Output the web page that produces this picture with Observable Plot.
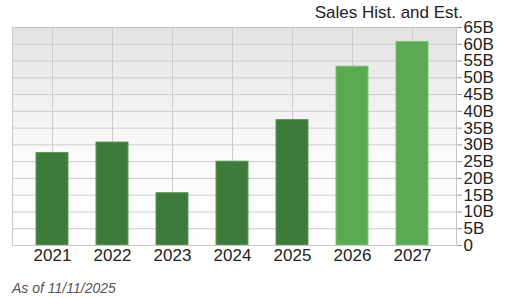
<!DOCTYPE html>
<html>
<head>
<meta charset="utf-8">
<script src="https://cdn.jsdelivr.net/npm/d3@7"></script>
<script src="https://cdn.jsdelivr.net/npm/@observablehq/plot@0.6"></script>
<style>
  html, body { margin: 0; padding: 0; background: #fff; }
  body { width: 509px; height: 298px; overflow: hidden; font-family: "Liberation Sans", Arial, sans-serif; }
  figure { margin: 0; }
  figure h2 {
    margin: 0 0 -10px 0; padding: 3px 46px 0 0; height: 20px; line-height: 20px;
    font-size: 17px; font-weight: normal; color: #222; text-align: right;
    font-family: "Liberation Sans", Arial, sans-serif;
    position: relative; z-index: 1;
  }
  figure figcaption {
    margin: 0; padding: 0 0 0 12px; line-height: 20px;
    font-size: 14px; font-style: italic; color: #555;
    font-family: "Liberation Sans", Arial, sans-serif;
  }
  svg { display: block; overflow: visible; }
</style>
</head>
<body>
<div id="chart"></div>
<script>
const years = ["2021", "2022", "2023", "2024", "2025", "2026", "2027"];
const sales = [27.6, 30.7, 15.6, 25.0, 37.4, 53.3, 60.7];
const kinds = ["Hist", "Hist", "Hist", "Hist", "Hist", "Est", "Est"];
const yTicks = [0, 5, 10, 15, 20, 25, 30, 35, 40, 45, 50, 55, 60, 65];
const titleText = "Sales Hist. and Est.";
const captionText = "As of 11/11/2025";

const data = years.map((y, i) => ({year: y, sales: sales[i], kind: kinds[i]}));

const gradientDefs = () => {
  const defs = d3.create("svg:defs");
  const g = defs.append("linearGradient").attr("id", "bgGrad")
    .attr("x1", 0).attr("y1", 0).attr("x2", 0).attr("y2", 1);
  g.append("stop").attr("offset", "0%").attr("stop-color", "#e3e3e3");
  g.append("stop").attr("offset", "60%").attr("stop-color", "#fbfbfb");
  g.append("stop").attr("offset", "100%").attr("stop-color", "#ffffff");
  return defs.node();
};

const chart = Plot.plot({
  width: 509,
  height: 265,
  marginTop: 14,
  marginBottom: 33,
  marginLeft: 12,
  marginRight: 53,
  title: titleText,
  caption: captionText,
  style: {fontFamily: "Liberation Sans, Arial, sans-serif", fontSize: "17px", color: "#222", background: "transparent", overflow: "visible"},
  x: {domain: years, range: [19, 444.6], paddingInner: 0.46, paddingOuter: 0.23, label: null},
  y: {domain: [0, 65], label: null},
  color: {domain: ["Hist", "Est"], range: ["#3e7a3b", "#5aa953"]},
  marks: [
    gradientDefs,
    Plot.frame({fill: "url(#bgGrad)", stroke: null}),
    Plot.gridY({ticks: yTicks, stroke: "#cccccc", strokeOpacity: 1}),
    Plot.gridX({stroke: "#cccccc", strokeOpacity: 1}),
    Plot.barY(data, {x: "year", y: "sales", fill: "kind", stroke: d => d.kind === "Hist" ? "#5c9a57" : "#7cc075", strokeWidth: 1}),
    Plot.frame({stroke: "#c8c8c8"}),
    Plot.axisX({tickSize: 0, tickPadding: 3, fontSize: 17, label: null, color: "#222"}),
    Plot.axisY({anchor: "right", ticks: yTicks, tickSize: 5, tickPadding: 2, fontSize: 17, label: null,
      tickFormat: d => d === 0 ? "0" : d + "B", stroke: "#999"})
  ]
});
document.getElementById("chart").appendChild(chart);
</script>
</body>
</html>
